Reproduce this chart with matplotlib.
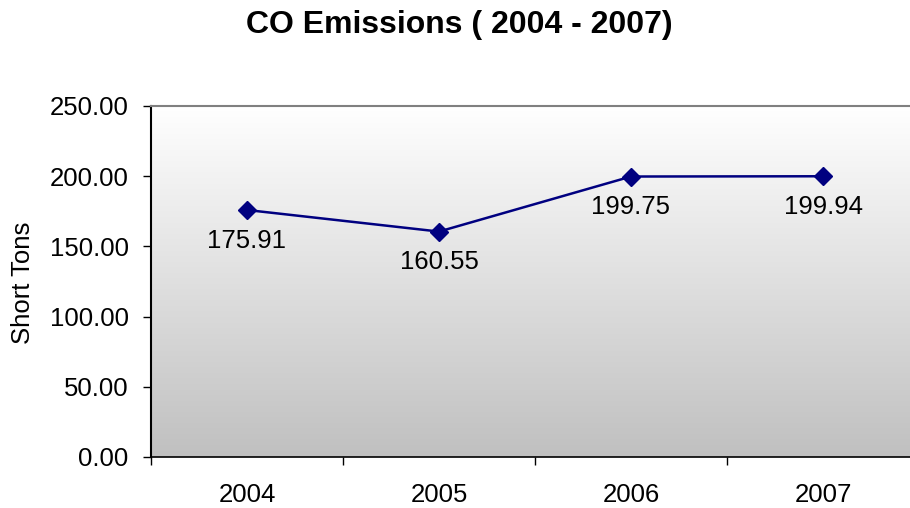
import numpy as np
import matplotlib.pyplot as plt
from matplotlib.colors import LinearSegmentedColormap

plt.rcParams['font.family'] = ['Liberation Sans', 'DejaVu Sans']

# CO emissions per year, short tons
years = ['2004', '2005', '2006', '2007']
emissions = [175.91, 160.55, 199.75, 199.94]

fig = plt.figure(figsize=(9.10, 5.08), dpi=100)
ax = fig.add_axes([0.1659, 0.1004, 0.8440, 0.691])

x = np.arange(len(years))
ax.set_xlim(-0.5, len(years) - 0.5)
ax.set_ylim(0, 250)

# white-to-grey vertical gradient behind the plot
grad = np.linspace(0, 1, 256).reshape(-1, 1)
bg = LinearSegmentedColormap.from_list('bg', ['#c0c0c0', '#ffffff'])
ax.imshow(grad, extent=[0, 1, 0, 1], transform=ax.transAxes, aspect='auto',
          cmap=bg, origin='lower', zorder=0)

ax.plot(x, emissions, color='#000080', linewidth=1.8, marker='D',
        markersize=9, zorder=3, clip_on=False)

for xi, v in zip(x, emissions):
    ax.annotate(f'{v:.2f}', (xi, v), xytext=(0, -22), textcoords='offset points',
                ha='center', va='center', fontsize=18.5)

ax.set_yticks(np.arange(0, 251, 50))
ax.set_yticklabels([f'{t:.2f}' for t in np.arange(0, 251, 50)], fontsize=18.5)
ax.set_xticks(x)
ax.set_xticklabels(years, fontsize=18.5)
ax.set_xticks(np.arange(-0.5, len(years) + 0.5, 1), minor=True)
ax.tick_params(axis='x', which='major', length=0, pad=19)
ax.tick_params(axis='x', which='minor', length=6, width=1, direction='out')
ax.tick_params(axis='y', length=6, width=1, direction='out', pad=10)

ax.spines['top'].set_color('#808080')
ax.spines['top'].set_linewidth(1.5)
ax.spines['right'].set_visible(False)
ax.spines['left'].set_linewidth(1.5)
ax.spines['bottom'].set_linewidth(1.2)

fig.text(0.025, 0.443, 'Short Tons', rotation=90, ha='center', va='center',
         fontsize=18.5)
fig.text(0.505, 0.951, 'CO Emissions ( 2004 - 2007)', ha='center', va='center',
         fontsize=23, fontweight='bold')

fig.savefig('out.png', dpi=100)
